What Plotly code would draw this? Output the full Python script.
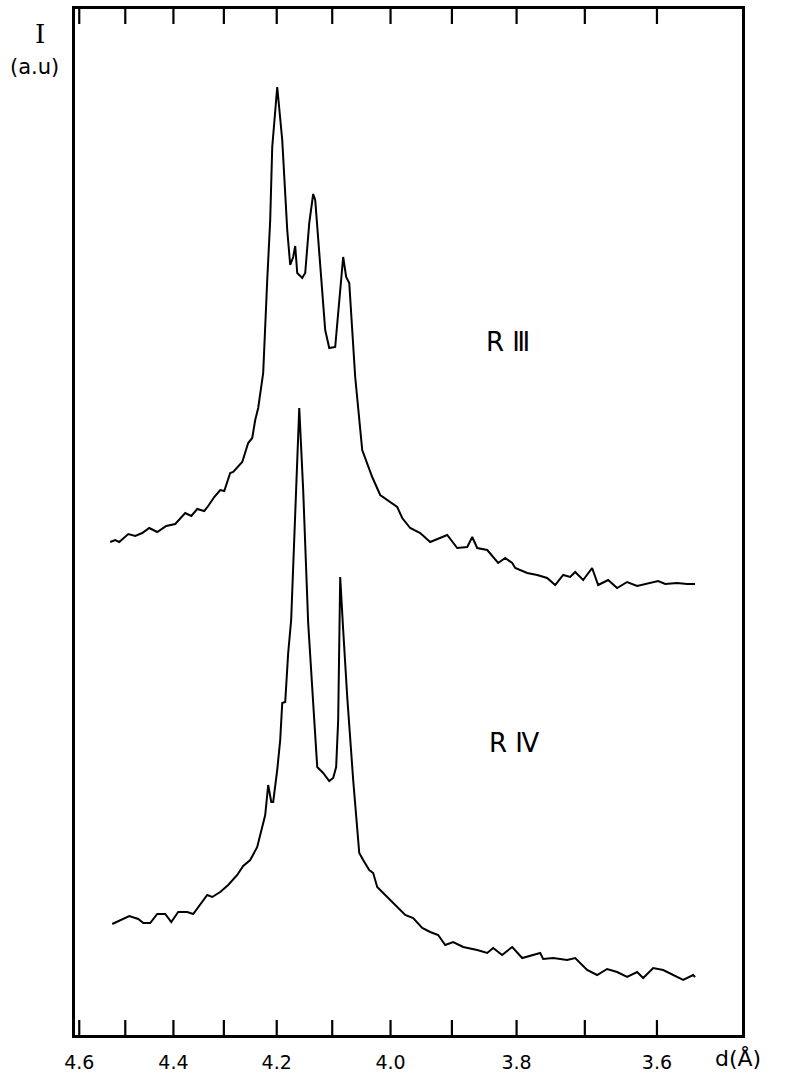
import numpy as np
import plotly.graph_objects as go

# Cu K-alpha wavelength (Å); the scan is linear in 2θ, labelled in d-spacing
WAVELENGTH = 1.5406

# Sample R III : 2θ (deg) and intensity (a.u.)
r3_2theta = [19.571, 19.618, 19.656, 19.741, 19.806, 19.872, 19.938, 20.013, 20.098, 20.182,
             20.276, 20.333, 20.389, 20.455, 20.492, 20.549, 20.605, 20.643, 20.699, 20.727,
             20.812, 20.868, 20.906, 20.934, 20.962, 21.000, 21.009, 21.047, 21.075, 21.094,
             21.141, 21.188, 21.207, 21.235, 21.263, 21.291, 21.310, 21.329, 21.376, 21.404,
             21.442, 21.479, 21.498, 21.545, 21.592, 21.630, 21.686, 21.714, 21.761, 21.789,
             21.818, 21.874, 21.940, 22.034, 22.109, 22.269, 22.316, 22.391, 22.485, 22.579,
             22.673, 22.739, 22.833, 22.927, 22.974, 23.021, 23.115, 23.162, 23.218, 23.284,
             23.350, 23.378, 23.491, 23.585, 23.678, 23.754, 23.829, 23.895, 23.942, 24.017,
             24.101, 24.158, 24.252, 24.336, 24.430, 24.524, 24.628, 24.722, 24.788, 24.900,
             24.994, 25.069]
r3_int = [493, 495, 493, 501, 499, 502, 507, 503, 509, 511,
          522, 519, 526, 524, 529, 538, 545, 544, 562, 563,
          573, 592, 597, 615, 627, 655, 662, 755, 815, 888,
          948, 895, 858, 805, 770, 778, 789, 762, 757, 762,
          812, 841, 835, 768, 705, 687, 688, 722, 778, 758,
          752, 658, 585, 558, 540, 528, 517, 507, 502, 493,
          497, 500, 487, 488, 498, 487, 485, 479, 472, 477,
          472, 467, 462, 460, 457, 450, 460, 458, 463, 455,
          467, 450, 455, 447, 453, 449, 452, 454, 451, 452,
          451, 451]

# Sample R IV : 2θ (deg) and intensity (a.u.)
r4_2theta = [19.590, 19.665, 19.750, 19.835, 19.882, 19.947, 20.013, 20.088, 20.145, 20.210,
             20.295, 20.351, 20.483, 20.530, 20.605, 20.680, 20.765, 20.821, 20.887, 20.953,
             21.000, 21.028, 21.056, 21.085, 21.103, 21.141, 21.169, 21.188, 21.216, 21.244,
             21.272, 21.348, 21.385, 21.432, 21.479, 21.517, 21.573, 21.630, 21.667, 21.695,
             21.714, 21.733, 21.761, 21.799, 21.855, 21.912, 21.949, 22.006, 22.043, 22.081,
             22.109, 22.175, 22.250, 22.344, 22.419, 22.504, 22.579, 22.654, 22.720, 22.795,
             22.889, 23.021, 23.115, 23.171, 23.255, 23.350, 23.444, 23.547, 23.613, 23.641,
             23.735, 23.866, 23.942, 24.054, 24.148, 24.242, 24.336, 24.430, 24.524, 24.581,
             24.675, 24.769, 24.863, 24.957, 25.051, 25.069]
r4_int = [111, 115, 119, 116, 112, 112, 121, 121, 113, 123,
          123, 121, 140, 138, 143, 150, 160, 169, 175, 188,
          208, 220, 250, 233, 233, 265, 295, 332, 333, 382,
          415, 627, 545, 412, 332, 268, 262, 254, 257, 268,
          315, 458, 405, 338, 255, 182, 175, 165, 162, 148,
          145, 138, 130, 120, 117, 107, 103, 100, 90, 93,
          88, 85, 82, 87, 80, 88, 77, 80, 82, 76,
          77, 75, 77, 65, 60, 66, 63, 58, 63, 57,
          67, 65, 60, 55, 60, 58]

# d-spacing ticks (Å)
tick_d = [4.6, 4.5, 4.4, 4.3, 4.2, 4.1, 4.0, 3.9, 3.8, 3.7, 3.6]
tick_labels = ["4.6", "", "4.4", "", "4.2", "", "4.0", "", "3.8", "", "3.6"]

X_RANGE = [19.24, 25.51]
Y_RANGE = [0, 1026]
TICK_LEN = 15  # in intensity units (1 unit ≈ 1 px here)


def d_to_2theta(d):
    return np.degrees(2 * np.arcsin(WAVELENGTH / (2 * np.asarray(d))))


tick_vals = d_to_2theta(tick_d)

fig = go.Figure()
for xs, ys in [(r3_2theta, r3_int), (r4_2theta, r4_int)]:
    fig.add_trace(go.Scatter(x=xs, y=ys, mode="lines",
                             line=dict(color="black", width=2),
                             showlegend=False, hoverinfo="skip"))

# tick marks on the bottom and top edges, drawn as a trace on the data scales
tick_x, tick_y = [], []
for tv in tick_vals:
    tick_x += [tv, tv, None, tv, tv, None]
    tick_y += [Y_RANGE[0], Y_RANGE[0] + TICK_LEN, None,
               Y_RANGE[1] - TICK_LEN, Y_RANGE[1], None]
fig.add_trace(go.Scatter(x=tick_x, y=tick_y, mode="lines",
                         line=dict(color="black", width=2.2),
                         showlegend=False, hoverinfo="skip", cliponaxis=False))

fig.update_xaxes(range=X_RANGE, tickmode="array", tickvals=tick_vals,
                 ticktext=tick_labels, ticks="outside", ticklen=8,
                 tickcolor="rgba(0,0,0,0)", automargin=False,
                 tickfont=dict(family="DejaVu Sans", size=19, color="black"),
                 showline=True, linecolor="black", linewidth=2.5, mirror=True,
                 showgrid=False, zeroline=False)
fig.update_yaxes(range=Y_RANGE, showticklabels=False, ticks="", automargin=False,
                 showline=True, linecolor="black", linewidth=2.5, mirror=True,
                 showgrid=False, zeroline=False)

annotations = [
    dict(text="I", xref="paper", yref="paper", x=-0.0525, y=0.976,
         font=dict(family="DejaVu Serif", size=26, color="black")),
    dict(text="(a.u)", xref="paper", yref="paper", x=-0.061, y=0.943,
         font=dict(family="DejaVu Sans", size=21, color="black")),
    dict(text="d(Å)", xref="paper", yref="paper", x=0.994, y=-0.022,
         font=dict(family="DejaVu Sans", size=22, color="black")),
    dict(text="R Ⅲ", x=23.312, y=693,
         font=dict(family="DejaVu Sans", size=26, color="black")),
    dict(text="R Ⅳ", x=23.368, y=292,
         font=dict(family="DejaVu Sans", size=26, color="black")),
]
for a in annotations:
    fig.add_annotation(showarrow=False, xanchor="center", yanchor="middle", **a)

fig.update_layout(width=789, height=1078,
                  margin=dict(l=75, r=47, t=9, b=43),
                  paper_bgcolor="white", plot_bgcolor="white")

fig.write_html("out.html")
